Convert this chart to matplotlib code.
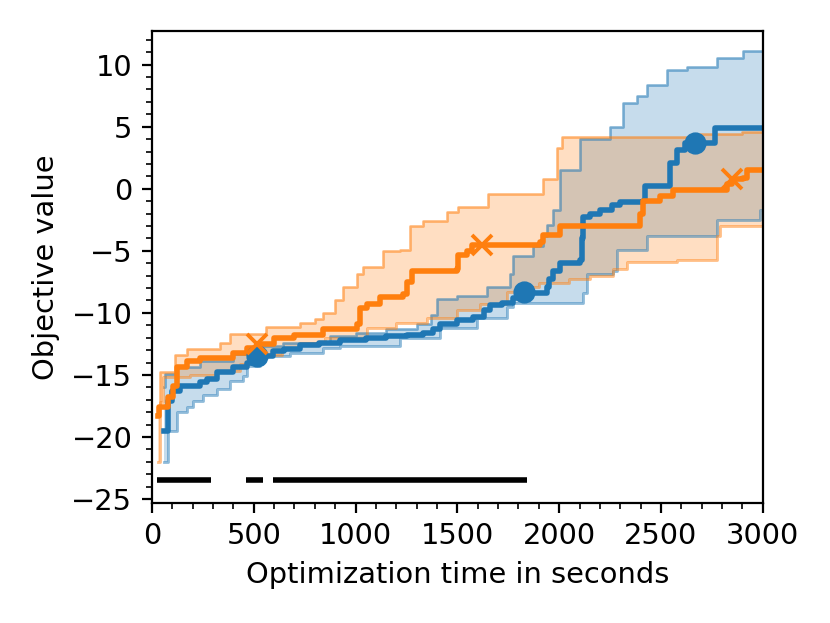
import numpy as np
import matplotlib.pyplot as plt
from matplotlib.ticker import MultipleLocator

# mediana e banda (azul)
t_blue = [59, 78, 100, 137, 236, 270, 319, 398, 466, 515, 594, 650, 727, 820, 923,
          1050, 1150, 1252, 1330, 1380, 1414, 1500, 1576, 1630, 1660, 1720, 1772, 1826, 1939, 1950,
          1969, 2003, 2101, 2110, 2116, 2150, 2200, 2259, 2300, 2411, 2421, 2543, 2578, 2620, 2764, 3000]
y_blue = [-19.5, -17.1, -16.3, -15.9, -15.6, -15.3, -14.8, -14.4, -14.0, -13.5,
          -13.1, -12.9, -12.6, -12.4, -12.2, -12.0, -11.9, -11.8, -11.6, -11.3, -10.9, -10.6, -10.3,
          -9.8, -9.4, -9.2, -8.8, -8.4, -7.9, -7.3, -6.6, -6.0, -5.7, -4.0, -2.3, -2.0, -1.7, -1.3,
          -1.1, -1.0, 0.2, 2.1, 3.1, 3.7, 4.9, 4.9]

t_blue_hi = [59, 64, 123, 236, 398, 496, 643, 874, 1000, 1150, 1300, 1370, 1399, 1500, 1645, 1758,
             1773, 1871, 1920, 1939, 1969, 2003, 2101, 2249, 2313, 2380, 2430, 2529, 2626, 2774, 2902, 3000]
y_blue_hi = [-16.0, -14.9, -14.4, -13.9, -13.3, -12.7, -12.4, -11.9, -11.6, -11.3, -10.9, -10.2, -8.9,
             -8.6, -7.9, -6.9, -5.4, -4.6, -3.8, -2.9, -1.7, 1.55, 4.0, 5.0, 6.9, 7.5, 8.4, 9.6, 9.8,
             10.5, 11.1, 11.1]

t_blue_lo = [59, 78, 123, 172, 201, 250, 319, 383, 447, 466, 530, 678, 840, 923, 1218, 1414, 1596,
             1743, 1773, 2116, 2136, 2264, 2283, 2430, 2774, 2985, 3000]
y_blue_lo = [-22.0, -19.5, -18.0, -17.6, -17.1, -16.6, -16.1, -15.5, -15.1, -14.3, -13.5, -13.2, -12.8,
             -12.7, -12.0, -11.2, -10.4, -9.5, -9.2, -8.4, -6.9, -6.6, -4.9, -3.8, -2.5, -1.7, -1.7]

# mediana e banda (laranja)
t_orange = [29, 35, 78, 103, 123, 172, 236, 398, 466, 515, 600, 700, 840, 1007, 1021, 1056, 1120, 1232,
            1252, 1277, 1498, 1503, 1547, 1571, 1905, 1920, 2003, 2396, 2411, 2494, 2558, 2823, 2848,
            2902, 2921, 3000]
y_orange = [-18.3, -17.6, -16.8, -15.9, -14.4, -13.9, -13.6, -13.2, -12.8, -12.5, -12.0, -11.8, -11.3,
            -10.9, -9.6, -9.3, -8.7, -8.5, -7.5, -6.6, -6.5, -5.3, -5.0, -4.5, -4.3, -3.7, -3.0, -2.0,
            -1.0, -0.6, -0.06, 0.4, 0.75, 0.9, 1.55, 1.55]

t_orange_hi = [29, 42, 113, 172, 334, 383, 560, 727, 800, 840, 900, 938, 1007, 1036, 1135, 1218, 1266,
               1330, 1448, 1503, 1650, 1920, 1988, 2013, 2650, 2900, 3000]
y_orange_hi = [-17.5, -14.8, -13.4, -12.9, -12.4, -11.7, -11.1, -10.8, -10.5, -10.0, -9.0, -7.9, -6.9,
               -6.3, -5.0, -4.9, -3.0, -2.6, -1.9, -1.5, -0.46, 0.75, 3.3, 4.2, 4.4, 4.6, 4.6]

t_orange_lo = [29, 42, 54, 187, 319, 432, 467, 550, 640, 727, 850, 1056, 1200, 1350, 1500, 1610,
               1743, 1800, 1900, 2050, 2150, 2264, 2332, 2578, 2774, 2789, 3000]
y_orange_lo = [-22.0, -17.2, -15.2, -15.0, -14.7, -14.1, -13.9, -13.4, -12.9, -12.4, -12.0, -11.2,
               -10.8, -10.4, -9.8, -9.3, -8.3, -7.9, -7.6, -7.3, -7.0, -6.5, -5.9, -5.7, -3.8, -3.0, -2.6]

# marcadores
mk_blue_t = [515, 1826, 2666]
mk_blue_y = [-13.5, -8.3, 3.7]
mk_orange_t = [515, 1620, 2848]
mk_orange_y = [-12.5, -4.5, 0.75]

# segmentos de significancia
sig_start = [25, 460, 595]
sig_end = [290, 545, 1840]
sig_y = -23.45

plt.rcParams['font.size'] = 10.4
fig = plt.figure(figsize=(4.15, 3.115), dpi=200)
ax = fig.add_axes([0.183, 0.193, 0.736, 0.757])

for t_hi, y_hi, t_lo, y_lo, cor in [
        (t_blue_hi, y_blue_hi, t_blue_lo, y_blue_lo, 'tab:blue'),
        (t_orange_hi, y_orange_hi, t_orange_lo, y_orange_lo, 'tab:orange')]:
    tt = np.union1d(t_hi, t_lo)
    # degraus: valor vigente em cada instante
    hi = np.array([y_hi[np.searchsorted(t_hi, v, side='right') - 1] for v in tt])
    lo = np.array([y_lo[np.searchsorted(t_lo, v, side='right') - 1] for v in tt])
    ax.fill_between(tt, lo, hi, step='post', color=cor, alpha=0.25, lw=0)
    ax.step(t_hi, y_hi, where='post', color=cor, alpha=0.5, lw=1.0)
    ax.step(t_lo, y_lo, where='post', color=cor, alpha=0.5, lw=1.0)

ax.step(t_blue, y_blue, where='post', color='tab:blue', lw=2.0)
ax.step(t_orange, y_orange, where='post', color='tab:orange', lw=2.0)
ax.plot(mk_blue_t, mk_blue_y, 'o', color='tab:blue', ms=7)
ax.plot(mk_orange_t, mk_orange_y, 'x', color='tab:orange', ms=7.5, mew=1.4)

ax.hlines([sig_y] * len(sig_start), sig_start, sig_end, color='k', lw=2.0)

ax.set_xlim(0, 3000)
ax.set_ylim(-25.3, 12.7)
ax.xaxis.set_major_locator(MultipleLocator(500))
ax.xaxis.set_minor_locator(MultipleLocator(100))
ax.yaxis.set_major_locator(MultipleLocator(5))
ax.yaxis.set_minor_locator(MultipleLocator(1))
ax.set_xlabel("Optimization time in seconds")
ax.set_ylabel("Objective value")
fig.savefig('out.png', dpi=200)
